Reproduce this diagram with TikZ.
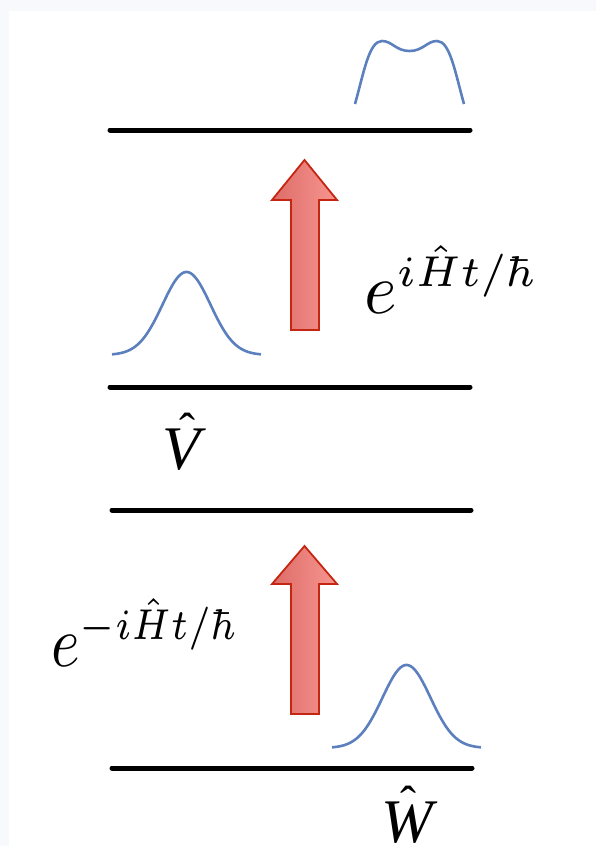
\documentclass[tikz,border=0pt]{standalone}
\usepackage{fontspec}
\newfontfamily\tnr{Liberation Serif}
\DeclareMathSizes{10}{10}{6}{5}
\definecolor{bgframe}{RGB}{248,249,253}
\definecolor{wavecol}{RGB}{91,128,189}
\definecolor{arrowedge}{RGB}{196,38,18}
\definecolor{arrowleft}{RGB}{221,108,104}
\definecolor{arrowright}{RGB}{247,150,144}
\begin{document}
\begin{tikzpicture}[x=1pt,y=-1pt,
  level/.style={line width=5pt,line cap=round},
  wave/.style={line width=2.6pt,draw=wavecol,line cap=butt},
  bigarrow/.style={draw=arrowedge,line width=1.8pt,line join=miter,left color=arrowleft,right color=arrowright},
  lbl/.style={inner sep=0pt,anchor=base west,scale=7.2},
  oplbl/.style={inner sep=0pt,anchor=base,font=\fontsize{62}{70}\tnr\itshape},
  hatlbl/.style={inner sep=0pt,anchor=base,font=\fontsize{48}{56}\tnr},
]
\path[use as bounding box,fill=bgframe] (0,0) rectangle (596,846);
\fill[white] (9,11) rectangle (596,846);

% energy levels
\draw[level] (110,130) -- (470,130);
\draw[level] (110,387) -- (470,387);
\draw[level] (112,510) -- (471,510);
\draw[level] (112,768) -- (472,768);

% wave packets
\draw[wave] plot[domain=112:261,samples=90] (\x,{355-83*exp(-((\x-186.5)^2)/1152)});
\draw[wave] plot[domain=332:481,samples=90] (\x,{748-83*exp(-((\x-406.5)^2)/1152)});
\draw[wave] (355,104) .. controls (364,72) and (369,41) .. (382,41)
  .. controls (392,41) and (396,51) .. (409.5,51)
  .. controls (423,51) and (427,41) .. (437,41)
  .. controls (450,41) and (455,72) .. (464,104);

% arrows
\draw[bigarrow] (291,330) -- (291,200) -- (272,200) -- (304.5,160) -- (337,200) -- (319,200) -- (319,330) -- cycle;
\draw[bigarrow] (291,714) -- (291,584) -- (272,584) -- (304.5,546) -- (337,584) -- (319,584) -- (319,714) -- cycle;

% labels
\node[lbl,xscale=0.97] (Uplus) at (363,313) {$e^{i\hat{H}t/\hbar}$};
\node[lbl,xscale=0.85] (Uminus) at (50,666) {$e^{-i\hat{H}t/\hbar}$};
\node[oplbl] (V) at (181,469) {V};
\node[hatlbl] (Vhat) at (187,446) {ˆ};
\node[oplbl] (W) at (407,842) {W};
\node[hatlbl] (What) at (408,819) {ˆ};
\end{tikzpicture}
\end{document}
